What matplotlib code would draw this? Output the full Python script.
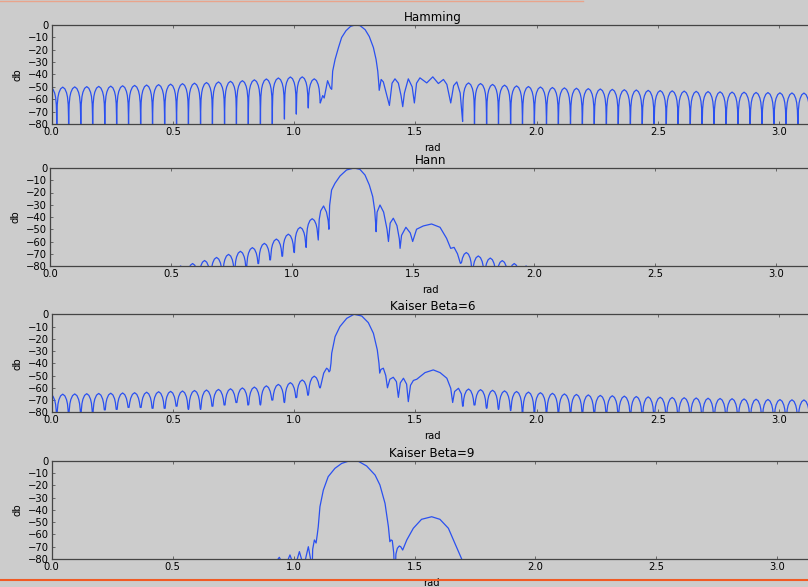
import matplotlib
matplotlib.use('Agg')
import matplotlib.pyplot as plt
from matplotlib.lines import Line2D
import numpy as np

titles = ['Hamming', 'Hann', 'Kaiser Beta=6', 'Kaiser Beta=9']

# sidelobe nulls (rad) below and above the passband, same grid for every window
left_nulls = [-0.028, 0.021, 0.070, 0.120, 0.169, 0.219, 0.268, 0.317, 0.367, 0.416,
              0.466, 0.515, 0.564, 0.614, 0.663, 0.713, 0.762, 0.811, 0.861, 0.910,
              0.960, 1.009, 1.058, 1.108]
right_nulls = [1.695, 1.744, 1.794, 1.843, 1.893, 1.942, 1.991, 2.041, 2.090, 2.140,
               2.189, 2.238, 2.288, 2.337, 2.387, 2.436, 2.485, 2.535, 2.584, 2.634,
               2.683, 2.732, 2.782, 2.831, 2.881, 2.930, 2.979, 3.029, 3.078, 3.128, 3.177]

# --- Hamming ---
hamming_left_peaks = [-50.5, -50.2, -50.0, -49.8, -49.6, -49.4, -49.1, -48.8, -48.5, -48.2,
                      -47.8, -47.4, -47.0, -46.5, -46.0, -45.5, -45.0, -44.3, -43.6, -42.8,
                      -42.0, -41.9, -43.5]
hamming_left_depth = [-100] * 20 + [-76, -72, -67, -63]
hamming_core_x = [1.118, 1.124, 1.138, 1.150, 1.155, 1.159, 1.169, 1.183, 1.196, 1.214,
                  1.233, 1.251, 1.272, 1.293, 1.310, 1.327, 1.338, 1.345, 1.349, 1.351,
                  1.359, 1.368, 1.380, 1.393, 1.404, 1.416, 1.430, 1.441, 1.448, 1.455,
                  1.471, 1.487, 1.496, 1.505, 1.519, 1.547, 1.572, 1.595, 1.616, 1.630,
                  1.646, 1.658, 1.671, 1.685]
hamming_core_db = [-57, -59, -45, -51, -52, -37.3, -27.8, -18.2, -10.1, -4.6,
                   -1.1, 0, -0.5, -3.8, -9.3, -18.2, -27.8, -37.3, -46.8, -52.8,
                   -44, -46, -55, -65, -47, -43.5, -47, -57, -66, -55,
                   -43.5, -50, -63, -47, -42.7, -46.8, -41.9, -47.3, -44, -48,
                   -63, -49, -46, -55]
hamming_right_peaks = [-46.8, -47.3, -48.0, -48.6, -49.2, -49.7, -50.1, -50.5, -50.8, -51.1,
                       -51.4, -51.7, -52.0, -52.3, -52.5, -52.8, -53.0, -53.2, -53.4, -53.6,
                       -53.8, -54.0, -54.2, -54.3, -54.5, -54.6, -54.8, -54.9, -55.0, -55.0]
hamming_right_depth = [-78] + [-100] * 30

# --- Hann ---
hann_left_peaks = [-80, -78, -75.5, -73, -70.5, -68, -65, -61.5, -58, -54, -48.4, -41.4]
hann_left_depth = [-100, -100, -100, -100, -100, -100, -100, -78, -75, -72, -69, -64.8, -58.8]
hann_core_x = [1.112, 1.118, 1.130, 1.142, 1.149, 1.152, 1.155, 1.163, 1.177, 1.198,
               1.225, 1.256, 1.280, 1.301, 1.319, 1.333, 1.341, 1.345, 1.347, 1.351,
               1.363, 1.378, 1.392, 1.398, 1.405, 1.418, 1.433, 1.443, 1.446, 1.452,
               1.470, 1.488, 1.498, 1.514, 1.542, 1.576, 1.611, 1.638, 1.655, 1.669,
               1.683]
hann_core_db = [-42, -35, -31, -36, -43, -50, -30.5, -18, -12.5, -6.5,
                -1.6, 0, -1.1, -5.7, -13.9, -23.4, -34.3, -45, -52, -36,
                -30.2, -36, -50, -60, -45, -41, -47, -58, -65.6, -55,
                -48.4, -53, -60, -50, -47.3, -45.7, -48.4, -57.4, -65.6, -64.8,
                -70]
hann_right_peaks = [-69, -71.8, -73.5, -75.6, -78, -80]
hann_right_depth = [-77.8, -100, -100, -100, -100, -100, -100]

# --- Kaiser beta=6 ---
kaiser6_left_peaks = [-65.5, -65.2, -65.0, -64.8, -64.6, -64.4, -64.2, -64.0, -63.6, -63.2,
                      -62.9, -62.6, -62.2, -61.8, -61.3, -60.8, -60.1, -59.4, -58.4, -57.2,
                      -55.8, -53.6, -50.5]
kaiser6_left_depth = [-100, -100, -100, -100, -100, -78, -77.6, -76, -76, -76.7,
                      -76.7, -75, -77.6, -77.6, -75, -74, -72, -74, -74, -70,
                      -72, -68, -66, -60]
kaiser6_core_x = [1.114, 1.122, 1.134, 1.140, 1.144, 1.148, 1.152, 1.155, 1.169, 1.189,
                  1.217, 1.247, 1.279, 1.306, 1.327, 1.343, 1.350, 1.353, 1.358, 1.368,
                  1.378, 1.385, 1.395, 1.409, 1.422, 1.430, 1.438, 1.451, 1.464, 1.471,
                  1.480, 1.492, 1.506, 1.519, 1.540, 1.574, 1.602, 1.630, 1.646, 1.654,
                  1.662, 1.678, 1.690]
kaiser6_core_db = [-55, -48, -44, -45, -47, -46, -40, -31.8, -18.2, -10,
                   -3.3, 0, -1.4, -6.8, -15.5, -29, -40, -48, -45, -44,
                   -50, -60, -53, -51.4, -55, -67.8, -56, -52.2, -57, -71.3,
                   -58, -54, -53, -50.9, -47.6, -45.4, -47.6, -52.2, -60.4, -72,
                   -63, -60.4, -65]
kaiser6_right_peaks = [-61.0, -61.5, -62.0, -62.5, -63.0, -63.5, -64.0, -64.5, -65.0, -65.4,
                       -65.8, -66.2, -66.5, -66.8, -67.1, -67.4, -67.7, -67.9, -68.1, -68.3,
                       -68.5, -68.7, -68.9, -69.1, -69.3, -69.5, -69.6, -69.8, -69.9, -70.0]
kaiser6_right_depth = [-75, -74, -76.7, -77.6, -78.6] + [-100] * 26

# --- Kaiser beta=9 ---
kaiser9_core_x = [0.910, 0.925, 0.941, 0.955, 0.962, 0.970, 0.985, 1.000, 1.003, 1.008,
                  1.024, 1.040, 1.043, 1.047, 1.061, 1.072, 1.075, 1.079, 1.086, 1.093,
                  1.098, 1.102, 1.109, 1.123, 1.143, 1.171, 1.199, 1.233, 1.268, 1.302,
                  1.337, 1.357, 1.378, 1.392, 1.398, 1.403, 1.408, 1.414, 1.419, 1.423,
                  1.429, 1.437, 1.443, 1.451, 1.468, 1.495, 1.529, 1.571, 1.605, 1.640,
                  1.667, 1.695, 1.710]
kaiser9_core_db = [-100, -83, -78.6, -84, -100, -84, -76.7, -85, -100, -85,
                   -74, -85, -100, -82, -70, -82, -100, -72, -64.5, -67,
                   -60, -53.7, -37.4, -23.9, -13, -6.2, -2.2, 0, -0.5, -4.3,
                   -11.7, -19.8, -34.7, -53.7, -65.9, -64.5, -65, -75, -100, -76,
                   -71.3, -69.4, -70, -72.7, -64.5, -55, -47.7, -45.6, -47.7, -55,
                   -67.3, -80, -90]

# shape of one sidelobe arch: fraction across the lobe / dB below its peak
LOBE_T = [0.012, 0.04, 0.1, 0.18, 0.32, 0.5, 0.68, 0.82, 0.9, 0.96, 0.988]
LOBE_DROP = [24, 14, 8, 4.5, 1.4, 0, 1.4, 4.5, 8, 14, 24]


def lobes(nulls, depths, peaks):
    xs, ys = [], []
    for i, p in enumerate(peaks):
        a, b = nulls[i], nulls[i + 1]
        xs.append(a)
        ys.append(depths[i])
        for t, d in zip(LOBE_T, LOBE_DROP):
            floor = depths[i] if t < 0.5 else depths[i + 1]
            xs.append(a + t * (b - a))
            ys.append(max(p - d, floor))
    xs.append(nulls[len(peaks)])
    ys.append(depths[len(peaks)])
    return xs, ys


def response(left_peaks, left_depth, core_x, core_db, right_peaks, right_depth):
    x, y = [], []
    if left_peaks:
        n = len(left_peaks)
        lx, ly = lobes(left_nulls[len(left_nulls) - n - 1:], left_depth, left_peaks)
        x += lx
        y += ly
    x += core_x
    y += core_db
    if right_peaks:
        rx, ry = lobes(right_nulls, right_depth, right_peaks)
        x += rx
        y += ry
    return x, y


curves = [
    response(hamming_left_peaks, hamming_left_depth, hamming_core_x, hamming_core_db,
             hamming_right_peaks, hamming_right_depth),
    response(hann_left_peaks, hann_left_depth, hann_core_x, hann_core_db,
             hann_right_peaks, hann_right_depth),
    response(kaiser6_left_peaks, kaiser6_left_depth, kaiser6_core_x, kaiser6_core_db,
             kaiser6_right_peaks, kaiser6_right_depth),
    response([], [], kaiser9_core_x, kaiser9_core_db, [], []),
]

bg = '#cccccc'
W, H = 808, 587
fig = plt.figure(figsize=(W / 100, H / 100), dpi=100)
fig.patch.set_facecolor(bg)

# left, right, top, bottom of each panel in pixels
boxes = [(51.7, 813.3, 25, 124), (50, 810.6, 168, 266),
         (51.7, 813.3, 314.3, 412.3), (51.7, 811.6, 460.7, 559)]

for (l, r, t, b), title, (x, y) in zip(boxes, titles, curves):
    ax = fig.add_axes([l / W, 1 - b / H, (r - l) / W, (b - t) / H])
    ax.set_facecolor(bg)
    ax.plot(x, y, color='#2a50f0', lw=0.9)
    ax.set_xlim(0, np.pi)
    ax.set_ylim(-80, 0)
    ax.set_xticks(np.arange(0, 3.01, 0.5))
    ax.set_yticks(np.arange(-80, 1, 10))
    ax.set_title(title, fontsize=8.6, pad=3)
    ax.set_xlabel('rad', fontsize=7.2, labelpad=4.5)
    ax.set_ylabel('db', fontsize=7.2, labelpad=4)
    ax.tick_params(direction='in', top=True, right=True, length=2.4, width=0.6,
                   color='#555555', labelsize=7.2, pad=2)
    for s in ax.spines.values():
        s.set_color('#444444')
        s.set_linewidth(0.9)

# window borders across the top and bottom of the image
fig.add_artist(Line2D([0, 583 / W], [1 - 0.5 / H] * 2, color='#e9a48c', lw=1.0,
                      transform=fig.transFigure, zorder=10))
fig.add_artist(Line2D([0, 1], [1 - 580 / H] * 2, color='#f15a24', lw=1.5,
                      transform=fig.transFigure, zorder=10))

fig.savefig('out.png', dpi=100, facecolor=bg)
